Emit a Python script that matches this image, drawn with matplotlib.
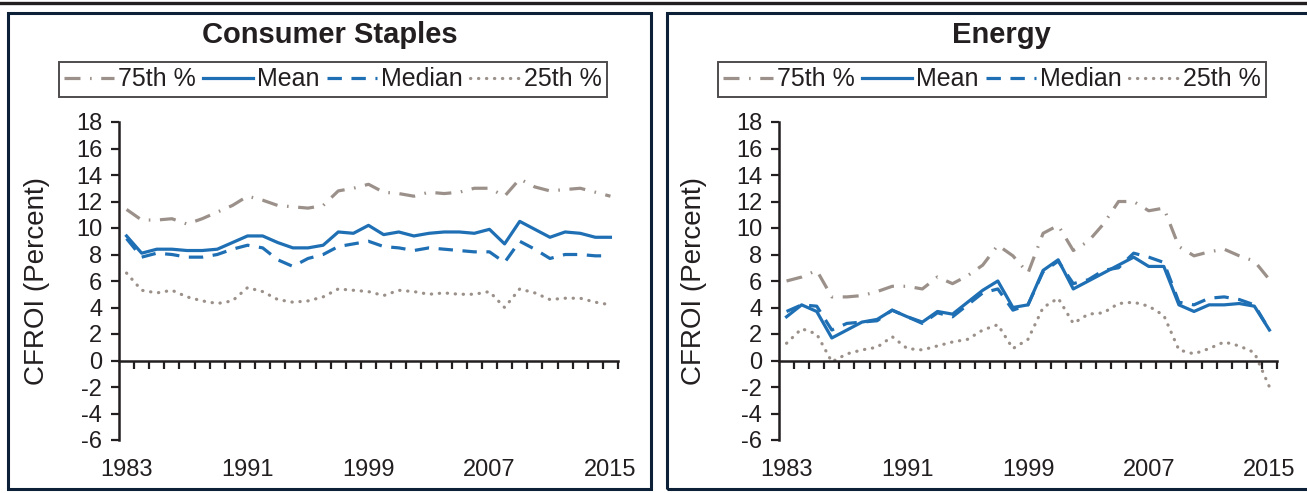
import numpy as np
import matplotlib
matplotlib.use("Agg")
import matplotlib.pyplot as plt
from matplotlib.patches import Rectangle
from matplotlib.lines import Line2D

plt.rcParams['font.family'] = ['Liberation Sans Narrow', 'Liberation Sans', 'DejaVu Sans']

years = list(range(1983, 2016))
year_labels = ['1983', '1991', '1999', '2007', '2015']

# Consumer Staples
cs_p75 = [11.4, 10.6, 10.6, 10.7, 10.3, 10.7, 11.2, 11.7, 12.4, 12.1, 11.7, 11.6, 11.5, 11.7,
          12.8, 13.0, 13.3, 12.7, 12.6, 12.4, 12.7, 12.6, 12.7, 13.0, 13.0, 12.4, 13.7, 13.1,
          12.8, 12.9, 13.0, 12.7, 12.4]
cs_mean = [9.4, 8.1, 8.4, 8.4, 8.3, 8.3, 8.4, 8.9, 9.4, 9.4, 8.9, 8.5, 8.5, 8.7,
           9.7, 9.6, 10.2, 9.5, 9.7, 9.4, 9.6, 9.7, 9.7, 9.6, 9.9, 8.8, 10.5, 9.9,
           9.3, 9.7, 9.6, 9.3, 9.3]
cs_median = [9.2, 7.8, 8.1, 8.0, 7.8, 7.8, 8.0, 8.4, 8.7, 8.5, 7.6, 7.1, 7.7, 8.0,
             8.6, 8.8, 9.0, 8.6, 8.5, 8.3, 8.5, 8.4, 8.3, 8.2, 8.2, 7.4, 9.0, 8.4,
             7.7, 8.0, 8.0, 7.9, 7.9]
cs_p25 = [6.6, 5.3, 5.1, 5.3, 4.8, 4.5, 4.3, 4.5, 5.5, 5.2, 4.6, 4.4, 4.5, 4.8,
          5.4, 5.3, 5.2, 4.9, 5.3, 5.2, 5.0, 5.1, 5.0, 5.0, 5.2, 4.0, 5.4, 5.1,
          4.6, 4.7, 4.7, 4.4, 4.2]

# Energy
en_p75 = [6.0, 6.3, 6.8, 4.8, 4.8, 4.9, 5.2, 5.6, 5.6, 5.4, 6.3, 5.8, 6.4, 7.2,
          8.7, 7.9, 6.6, 9.6, 10.2, 8.3, 9.0, 10.3, 12.0, 12.0, 11.3, 11.5, 8.6, 7.9,
          8.2, 8.4, 7.9, 7.5, 6.1]
en_mean = [3.3, 4.2, 3.7, 1.7, 2.3, 2.9, 3.1, 3.8, 3.3, 2.9, 3.7, 3.5, 4.4, 5.3,
           6.0, 4.0, 4.2, 6.8, 7.6, 5.4, 6.0, 6.6, 7.2, 7.8, 7.1, 7.1, 4.2, 3.7,
           4.2, 4.2, 4.3, 4.1, 2.3]
en_median = [3.7, 4.2, 4.1, 2.3, 2.8, 2.9, 3.0, 3.8, 3.3, 2.8, 3.6, 3.3, 4.2, 5.1,
             5.4, 3.8, 4.2, 6.7, 7.5, 5.8, 6.1, 6.8, 7.0, 8.1, 7.8, 7.4, 4.4, 4.2,
             4.7, 4.8, 4.6, 4.2, 2.3]
en_p25 = [1.3, 2.4, 2.0, -0.1, 0.5, 0.8, 1.0, 1.8, 0.9, 0.8, 1.1, 1.4, 1.6, 2.3,
          2.7, 0.9, 1.6, 4.0, 4.7, 2.8, 3.5, 3.6, 4.3, 4.4, 4.1, 3.4, 0.8, 0.5,
          0.9, 1.4, 1.1, 0.6, -2.0]

BLUE = '#1f6fb4'
GRAY = '#9b918a'
INK = '#231f20'
NAVY = '#0c2038'

W, H = 1307, 493
fig = plt.figure(figsize=(W / 100, H / 100), dpi=100)


def fx(px):
    return px / W


def fy(py):
    return 1 - py / H


# top rule and panel frames
fig.add_artist(Line2D([0, 1], [fy(2.5), fy(2.5)], color=INK, lw=2.4))
fig.add_artist(Rectangle((fx(8), fy(489)), fx(643), (489 - 13) / H, fill=False,
                         ec=NAVY, lw=2.2))
fig.add_artist(Rectangle((fx(667), fy(489)), fx(660), (489 - 13) / H, fill=False,
                         ec=NAVY, lw=2.2))

styles = dict(
    p75=dict(color=GRAY, lw=2.3, ls=(0, (5, 3, 0.5, 3)), dash_capstyle='butt', label='75th %'),
    mean=dict(color=BLUE, lw=2.3, ls='-', label='Mean'),
    median=dict(color=BLUE, lw=2.3, ls=(0, (4.5, 3)), label='Median'),
    p25=dict(color=GRAY, lw=2.3, ls=(0, (0.1, 2.4)), dash_capstyle='round', label='25th %'),
)


def panel(x0, x1, title, title_cx, legend_cx, label_x, p75, mean, median, p25):
    ax = fig.add_axes([fx(x0), fy(440), fx(x1 - x0), 318 / H])
    x = np.arange(len(years))
    ax.plot(x, p75, **styles['p75'])
    ax.plot(x, p25, **styles['p25'])
    ax.plot(x, median, **styles['median'])
    ax.plot(x, mean, **styles['mean'])

    ax.set_xlim(-0.5, len(years) - 0.5)
    ax.set_ylim(-6, 18)
    ax.set_yticks(np.arange(-6, 19, 2))
    ax.set_yticklabels([str(v) for v in range(-6, 19, 2)], fontsize=17, color=INK)
    ax.set_xticks(np.arange(0.5, len(years), 1))
    ax.set_xticklabels([])
    ax.spines['top'].set_visible(False)
    ax.spines['right'].set_visible(False)
    ax.spines['bottom'].set_position(('data', 0))
    for s in ('left', 'bottom'):
        ax.spines[s].set_linewidth(1.8)
        ax.spines[s].set_color(INK)
    ax.tick_params(axis='both', direction='out', length=6, width=1.6, color=INK)
    ax.tick_params(axis='y', pad=6)
    ax.patch.set_alpha(0)

    for lab in year_labels:
        i = years.index(int(lab))
        ax.text(i, -8.3, lab, ha='center', va='center', fontsize=17, color=INK,
                clip_on=False)

    ax.set_ylabel('CFROI (Percent)', fontsize=20, color=INK)
    ax.yaxis.set_label_coords((label_x - x0) / (x1 - x0), 0.5)

    fig.text(fx(title_cx), fy(35), title, ha='center', va='center', fontsize=21,
             fontweight='bold', color=INK)
    handles, labels = ax.get_legend_handles_labels()
    order = [0, 3, 2, 1]
    leg = fig.legend([handles[k] for k in order], [labels[k] for k in order],
                     loc='center', bbox_to_anchor=(fx(legend_cx), fy(79.5)), ncol=4,
                     fontsize=18, frameon=True, fancybox=False, handlelength=2.0,
                     handletextpad=0.15, columnspacing=0.3, borderpad=0.22)
    leg.get_frame().set_edgecolor(INK)
    leg.get_frame().set_linewidth(1.4)
    for t in leg.get_texts():
        t.set_color(INK)
    return ax


panel(119, 618, 'Consumer Staples', 330, 333, 50, cs_p75, cs_mean, cs_median, cs_p25)
panel(779, 1277, 'Energy', 1001, 992, 707, en_p75, en_mean, en_median, en_p25)

fig.savefig('out.png', dpi=100)
